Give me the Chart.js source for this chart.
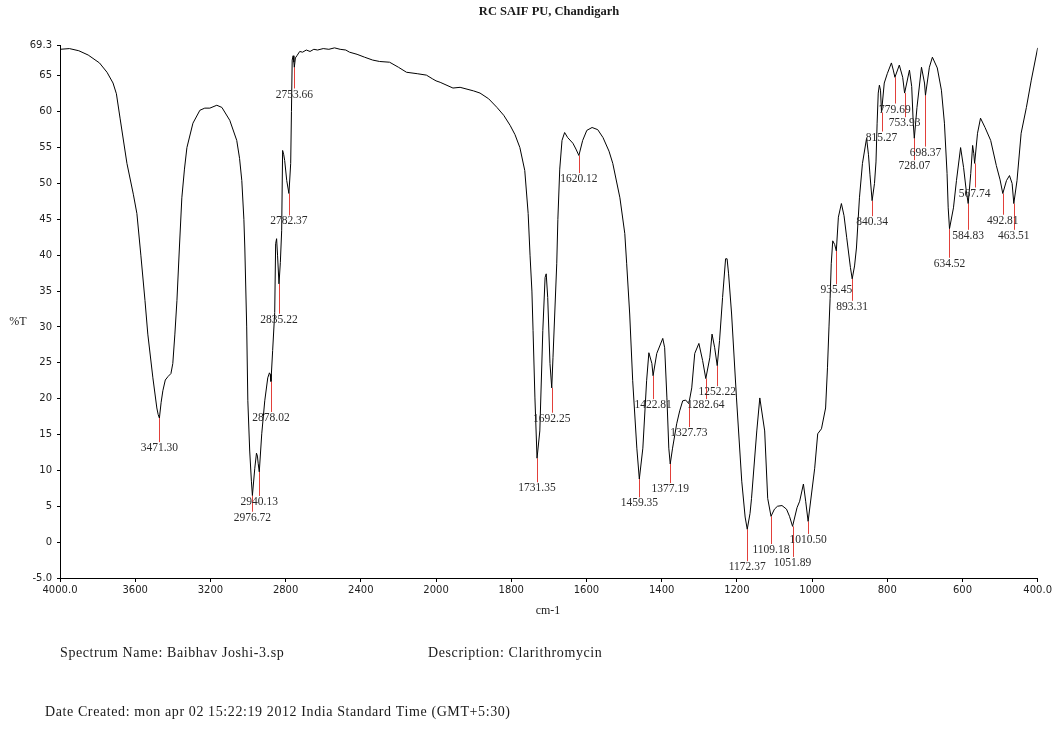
<!DOCTYPE html>
<html>
<head>
<meta charset="utf-8">
<script src="https://cdn.jsdelivr.net/npm/chart.js@4.4.1/dist/chart.umd.min.js"></script>
<style>
html, body { margin: 0; padding: 0; background: #fff; }
</style>
</head>
<body>
<canvas id="ir" width="1054" height="731"></canvas>
<script>
// spectrum, wavenumber (cm-1) and %T
var wavenumbers = [
  4000, 3950, 3900, 3850, 3790, 3750, 3718, 3700, 3680, 3644, 3610, 3591, 3570, 3548, 3533, 3506,
  3485, 3478, 3471.3, 3462, 3453, 3440, 3425, 3410, 3400, 3389, 3378, 3365, 3352, 3338, 3325, 3293,
  3256, 3230, 3203, 3166, 3139, 3097, 3060, 3045, 3033, 3022, 3017, 3007, 3001, 2991, 2982, 2976.7,
  2964, 2955, 2950, 2946, 2940.1, 2927, 2911, 2895, 2886, 2882, 2878, 2869, 2858, 2853, 2848, 2843,
  2835.2, 2828, 2821, 2816, 2810, 2805, 2794, 2782.4, 2773, 2769, 2765, 2760, 2756, 2753.7, 2748, 2740,
  2725, 2710, 2690, 2670, 2650, 2630, 2600, 2570, 2540, 2510, 2480, 2460, 2420, 2380, 2337, 2300,
  2247, 2200, 2157, 2100, 2051, 2020, 2000,
  1989, 1955, 1936, 1900, 1883, 1860, 1838, 1820, 1803, 1790, 1777, 1764, 1755, 1750, 1745, 1742,
  1737, 1731.4, 1724, 1716, 1710, 1707, 1703, 1697, 1692.3, 1689, 1679, 1676, 1671, 1665, 1658, 1650,
  1636, 1628, 1620.1, 1610, 1599, 1585, 1570, 1556, 1540, 1530, 1511, 1498, 1493, 1485, 1477, 1466,
  1459.4, 1450, 1440, 1434, 1426, 1422.8, 1413, 1397, 1392, 1386, 1381, 1377.2, 1371, 1360, 1352, 1344,
  1336, 1327.7, 1320, 1312, 1301, 1291, 1282.6, 1272, 1266, 1259, 1252.2, 1246, 1238, 1230, 1226, 1222,
  1214, 1201, 1187, 1178, 1172.4, 1165, 1161, 1147, 1139, 1126, 1118, 1109.2, 1100, 1092, 1080, 1068,
  1060, 1051.9, 1040, 1033, 1023, 1017, 1010.5, 993, 985, 975, 964, 959, 955, 952, 949, 945,
  940, 935.5, 930, 922, 915, 908, 898, 893.3, 887, 882, 874, 866, 855, 850, 846, 840.3,
  834, 830, 827, 824, 821, 818, 815.3, 808, 800, 789, 784, 779.7, 768, 759, 753.9, 741,
  735, 731, 728.1, 721, 709, 701, 698.4, 688, 680, 667, 656, 648, 641, 638, 634.5, 624,
  616, 605, 597, 590, 584.8, 578, 573, 570, 567.7, 560, 552, 540, 525, 510, 500, 492.8,
  483, 475, 468, 463.5, 455, 444, 430, 417, 400
];
var transmittance = [
  68.7, 68.8, 68.5, 67.9, 66.8, 65.5, 64, 62.5, 59, 52.8, 48.5, 45.8, 40, 33.7, 29, 22.9,
  18.7, 17.8, 17.3, 19.5, 21.1, 22.6, 23.1, 23.5, 24.9, 29, 33.7, 41, 48, 52, 55, 58.4,
  60.2, 60.5, 60.5, 60.9, 60.6, 58.8, 56, 53.5, 50.4, 45, 41, 30, 19.7, 12.7, 8.5, 6.5,
  10.3, 12.4, 12, 11, 9.8, 15.1, 19.7, 22.9, 23.6, 23.4, 22.4, 26.7, 32, 41.6, 42.3, 40,
  36, 39, 43.4, 54.6, 54, 53.2, 50.4, 48.6, 52.8, 60, 67.2, 67.8, 66.9, 66.2, 67.5, 67.8,
  68.4, 68.3, 68.6, 68.4, 68.7, 68.6, 68.8, 68.7, 68.9, 68.7, 68.6, 68.3, 68.0, 67.6, 67.2, 67,
  66.9, 66.2, 65.5, 65.3, 65.1, 64.6, 64.3,
  64.1, 63.3, 63.4, 62.9, 62.6, 61.8, 60.6, 59.5, 58.1, 56.8, 55, 51.8, 45.8, 40, 35, 29.5,
  20.1, 11.7, 15.5, 29.5, 36.9, 37.4, 34.1, 24.9, 21.5, 25.7, 38.8, 45, 52, 56, 57.1, 56.4,
  55.6, 54.8, 53.9, 56, 57.4, 57.8, 57.5, 56.4, 54.5, 52.8, 48, 43, 38.8, 31.8, 22.5, 13.1,
  8.8, 13.1, 22.5, 26.4, 24.9, 23.2, 26.3, 28.4, 27.1, 20.1, 13.1, 10.9, 13.1, 16.5, 18.3, 19.7,
  19.8, 19.3, 21.5, 26.3, 27.7, 25.3, 22.8, 25.7, 29, 27.1, 24.6, 28.1, 34.1, 39.5, 39.5, 37.4,
  31.8, 20.1, 8.5, 3.5, 1.8, 4, 6.1, 15.5, 20.1, 15.5, 6.1, 3.6, 4.6, 5.0, 5.1, 4.6,
  3.6, 2.2, 4.8, 5.7, 8.1, 5.7, 2.9, 10.3, 15.1, 15.8, 18.7, 24.3, 30, 34, 38.8, 42,
  41.5, 40.6, 45.3, 47.2, 45.5, 42.5, 38.3, 36.7, 38.5, 41, 48, 52.8, 56.3, 54, 51.2, 47.6,
  50, 53, 58.4, 62.6, 63.7, 63, 59.9, 64, 65.3, 66.8, 65.8, 64.8, 66.5, 64.8, 62.6, 65.8,
  63.5, 58.5, 56.3, 60.6, 66.2, 64, 62.3, 66.2, 67.6, 66.1, 63, 58.4, 51.4, 46.6, 43.7, 46.6,
  50.4, 55, 52.2, 49, 47.2, 51.4, 55.3, 54.2, 52.8, 57, 59.1, 57.8, 56, 52.5, 50.5, 48.6,
  50.4, 51.1, 50, 47.2, 50.4, 57, 60.6, 64.4, 68.9
];

// labelled bands: position, %T at the band, %T where the label sits
var peakWavenumbers = [3471.30, 2976.72, 2940.13, 2878.02, 2835.22, 2782.37, 2753.66, 1731.35, 1692.25, 1620.12,
  1459.35, 1422.81, 1377.19, 1327.73, 1282.64, 1252.22, 1172.37, 1109.18, 1051.89, 1010.50,
  935.45, 893.31, 840.34, 815.27, 779.69, 753.93, 728.07, 698.37, 634.52, 584.83, 567.74, 492.81, 463.51];
var peakValues = [17.3, 6.5, 9.8, 22.4, 36, 48.6, 66.2, 11.7, 21.5, 53.9,
  8.8, 23.2, 10.9, 19.3, 22.8, 24.6, 1.8, 3.6, 2.2, 2.9,
  40.6, 36.7, 47.6, 59.9, 64.8, 62.6, 56.3, 62.3, 43.7, 47.2, 52.8, 48.6, 47.2];
var labelLevels = [13.1, 3.4, 5.6, 17.3, 31.0, 44.7, 62.4, 7.5, 17.2, 50.6,
  5.4, 19.1, 7.4, 15.2, 19.1, 20.9, -3.5, -1.1, -2.9, 0.3,
  35.1, 32.8, 44.6, 56.4, 60.3, 58.4, 52.4, 54.3, 38.8, 42.7, 48.6, 44.8, 42.7];

var xTickLabels = ["4000.0", "3600", "3200", "2800", "2400", "2000", "1800", "1600", "1400", "1200", "1000", "800", "600", "400.0"];
var yTickValues = [69.3, 65, 60, 55, 50, 45, 40, 35, 30, 25, 20, 15, 10, 5, 0, -5];
var yTickLabels = ["69.3", "65", "60", "55", "50", "45", "40", "35", "30", "25", "20", "15", "10", "5", "0", "-5.0"];

// instrument axis: 400 cm-1 per division above 2000, 200 cm-1 per division below
function axisPos(w) {
  if (w >= 2000) return (4000 - w) / 400;
  return 5 + (2000 - w) / 200;
}

var points = [];
for (var i = 0; i < wavenumbers.length; i++) {
  points.push({ x: axisPos(wavenumbers[i]), y: transmittance[i] });
}

var serif = '"Liberation Serif", "Times New Roman", serif';

var peakMarks = {
  id: 'peakMarks',
  beforeDatasetsDraw: function(chart) {
    var ctx = chart.ctx, xs = chart.scales.x, ys = chart.scales.y;
    ctx.save();
    ctx.strokeStyle = '#e2403a';
    ctx.lineWidth = 1;
    for (var i = 0; i < peakWavenumbers.length; i++) {
      var px = Math.round(xs.getPixelForValue(axisPos(peakWavenumbers[i]))) + 0.5;
      var y0 = ys.getPixelForValue(peakValues[i]);
      var y1 = ys.getPixelForValue(labelLevels[i]) - 6;
      ctx.beginPath();
      ctx.moveTo(px, y0);
      ctx.lineTo(px, y1);
      ctx.stroke();
    }
    ctx.restore();
  },
  afterDatasetsDraw: function(chart) {
    var ctx = chart.ctx, xs = chart.scales.x, ys = chart.scales.y;
    ctx.save();
    ctx.fillStyle = '#2a2a2a';
    ctx.font = '11.5px ' + serif;
    ctx.textAlign = 'center';
    ctx.textBaseline = 'middle';
    for (var i = 0; i < peakWavenumbers.length; i++) {
      var px = xs.getPixelForValue(axisPos(peakWavenumbers[i]));
      var ty = ys.getPixelForValue(labelLevels[i]);
      ctx.fillText(peakWavenumbers[i].toFixed(2), px, ty);
    }
    ctx.restore();
  },
  afterDraw: function(chart) {
    var ctx = chart.ctx;
    ctx.save();
    ctx.fillStyle = '#1a1a1a';
    ctx.textBaseline = 'middle';
    ctx.textAlign = 'center';
    ctx.font = 'bold 12.5px ' + serif;
    ctx.fillText('RC SAIF PU, Chandigarh', 549, 12);
    ctx.font = '12px ' + serif;
    ctx.fillText('%T', 18, 322);
    ctx.fillText('cm-1', 548, 611);
    ctx.textAlign = 'left';
    ctx.font = '14px ' + serif;
    ctx.letterSpacing = '0.6px';
    ctx.fillText('Spectrum Name: Baibhav Joshi-3.sp', 60, 653);
    ctx.fillText('Description: Clarithromycin', 428, 653);
    ctx.fillText('Date Created: mon apr 02 15:22:19 2012 India Standard Time (GMT+5:30)', 45, 712);
    ctx.restore();
  }
};

var tickFont = { family: '"DejaVu Sans", Verdana, sans-serif', size: 10 };

new Chart(document.getElementById('ir'), {
  type: 'line',
  data: {
    datasets: [{
      data: points,
      borderColor: '#000',
      borderWidth: 1,
      pointRadius: 0,
      tension: 0,
      fill: false
    }]
  },
  options: {
    responsive: false,
    animation: false,
    layout: { padding: { top: 45, right: 15, left: 0, bottom: 0 } },
    plugins: { legend: { display: false }, tooltip: { enabled: false }, title: { display: false } },
    scales: {
      x: {
        type: 'linear',
        min: 0,
        max: 13,
        afterBuildTicks: function(scale) {
          scale.ticks = xTickLabels.map(function(_, i) { return { value: i }; });
        },
        afterFit: function(scale) { scale.height = 153; },
        ticks: {
          autoSkip: false,
          maxRotation: 0,
          padding: 2,
          color: '#222',
          font: tickFont,
          callback: function(v) { return xTickLabels[v]; }
        },
        grid: { drawOnChartArea: false, drawTicks: true, tickLength: 4, color: '#000' },
        border: { display: true, color: '#000', width: 1 }
      },
      y: {
        min: -5,
        max: 69.3,
        afterBuildTicks: function(scale) {
          scale.ticks = yTickValues.map(function(v) { return { value: v }; });
        },
        afterFit: function(scale) { scale.width = 60; },
        ticks: {
          padding: 5,
          color: '#222',
          font: tickFont,
          callback: function(v, idx) { return yTickLabels[idx]; }
        },
        grid: { drawOnChartArea: false, drawTicks: true, tickLength: 3, color: '#000' },
        border: { display: true, color: '#000', width: 1 }
      }
    }
  },
  plugins: [peakMarks]
});
</script>
</body>
</html>
